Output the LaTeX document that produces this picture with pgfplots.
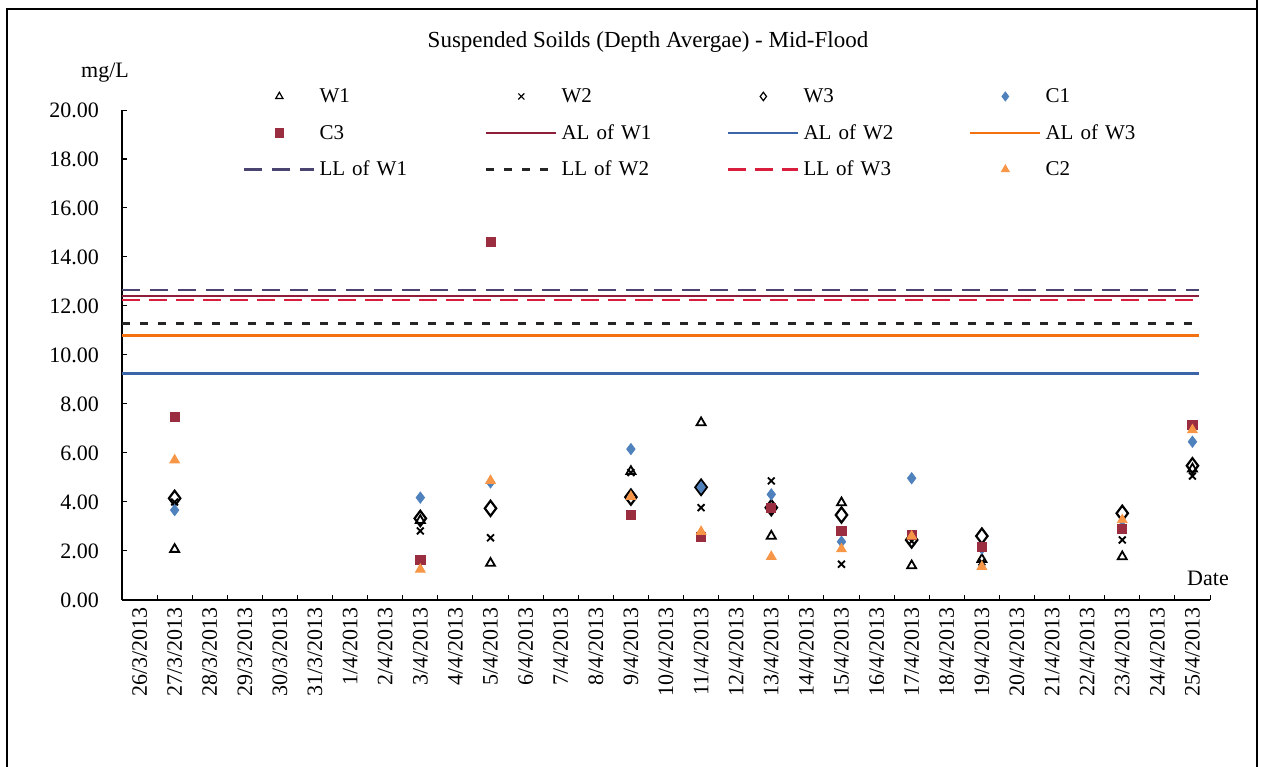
\documentclass[border=0pt]{standalone}
\usepackage{pgfplots}
\pgfplotsset{compat=1.18}
\usepackage{fontspec}
\setmainfont{Liberation Serif}
\definecolor{cC1}{HTML}{4F81BD}
\definecolor{cC3}{HTML}{9B2D40}
\definecolor{cC2}{HTML}{F79646}
\definecolor{alwone}{HTML}{8E1F3A}
\definecolor{alwtwo}{HTML}{3C64A8}
\definecolor{alwthree}{HTML}{F5700F}
\definecolor{llwone}{HTML}{4A4470}
\definecolor{llwthree}{HTML}{D81E3C}
\begin{document}
\begin{tikzpicture}
\useasboundingbox (0,0) rectangle (633pt,383.5pt);
\draw[line width=0.8pt] (3.5pt,0) -- (3.5pt,379pt) -- (628.5pt,379pt);
\draw[line width=0.8pt] (628.5pt,0) -- (628.5pt,383.5pt);
\node[font=\fontsize{11.5}{13}\selectfont] at (324pt,362.5pt) {Suspended Soilds (Depth Avergae) - Mid-Flood};
\node[font=\fontsize{11}{13}\selectfont] at (52.5pt,347pt) {mg/L};
\node[font=\fontsize{11}{13}\selectfont] at (604pt,94.5pt) {Date};
\begin{axis}[
  at={(61pt,83.5pt)}, anchor=south west,
  scale only axis, width=544pt, height=245pt,
  xmin=-0.5, xmax=30.5, ymin=0, ymax=20,
  axis lines*=left, axis line style={-, line width=0.6pt},
  tick align=inside, major tick length=2.5pt,
  tick style={black, line width=0.5pt},
  xtick={-0.5,0.5,...,30.5},
  x tick label as interval,
  xticklabels={26/3/2013,27/3/2013,28/3/2013,29/3/2013,30/3/2013,31/3/2013,1/4/2013,2/4/2013,3/4/2013,4/4/2013,5/4/2013,6/4/2013,7/4/2013,8/4/2013,9/4/2013,10/4/2013,11/4/2013,12/4/2013,13/4/2013,14/4/2013,15/4/2013,16/4/2013,17/4/2013,18/4/2013,19/4/2013,20/4/2013,21/4/2013,22/4/2013,23/4/2013,24/4/2013,25/4/2013},
  xticklabel style={rotate=90, anchor=east, font=\fontsize{11}{13}\selectfont},
  ytick={0,2,...,20},
  yticklabel style={font=\fontsize{11}{13}\selectfont, xshift=-8pt,
    /pgf/number format/.cd, fixed, fixed zerofill, precision=2, assume math mode=true},
  legend columns=4,
  legend cell align=left,
  legend style={draw=none, fill=none, inner sep=0pt,
    at={(axis description cs:0.111,1.056)}, anchor=north west,
    font=\fontsize{10.5}{12}\selectfont,
    row sep=4.75pt, column sep=0pt,
    /tikz/every even column/.append style={text width=80.8pt, text height=8pt, text depth=2.5pt}},
  legend image code/.code={\draw[mark repeat=2,mark phase=2,#1] plot coordinates {(0pt,0pt) (17.5pt,0pt) (35pt,0pt)};},
  legend image post style={mark size=2.1pt, mark options={line width=0.6pt}},
]
\addplot[only marks, color=black, mark=triangle, mark size=2.6pt, mark options={line width=0.9pt}] coordinates {
(1,2.07) (8,3.25) (10,1.50) (14,5.25) (16,7.24) (18,2.61) (20,3.97) (22,1.40) (24,1.66) (28,1.77) (30,5.35)};
\addlegendentry{W1}
\addplot[only marks, color=black, mark=x, mark size=2.4pt, mark options={line width=0.9pt}] coordinates {
(1,4.0) (8,2.82) (10,2.54) (14,5.2) (16,3.77) (18,4.86) (20,1.46) (22,2.4) (24,1.55) (28,2.45) (30,5.06)};
\addlegendentry{W2}
\addplot[only marks, color=black, mark=diamond, mark size=3.8pt, mark options={line width=1.1pt}] coordinates {
(1,4.15) (8,3.33) (10,3.74) (14,4.2) (16,4.6) (18,3.77) (20,3.47) (22,2.45) (24,2.61) (28,3.54) (30,5.48)};
\addlegendentry{W3}
\addplot[only marks, color=cC1, mark=diamond*, mark size=2.8pt] coordinates {
(1,3.67) (8,4.18) (10,4.8) (14,6.16) (16,4.6) (18,4.31) (20,2.38) (22,4.97) (24,2.1) (28,3.0) (30,6.46)};
\addlegendentry{C1}
\addplot[only marks, color=cC3, mark=square*, mark size=2.3pt] coordinates {
(1,7.48) (8,1.63) (10,14.62) (14,3.47) (16,2.57) (18,3.77) (20,2.82) (22,2.65) (24,2.18) (28,2.89) (30,7.14)};
\addlegendentry{C3}
\addplot[alwone, line width=1.2pt] coordinates {(-0.5,12.41) (30.2,12.41)};
\addlegendentry{AL of W1}
\addplot[alwtwo, line width=1.2pt] coordinates {(-0.5,9.25) (30.2,9.25)};
\addlegendentry{AL of W2}
\addplot[alwthree, line width=1.2pt] coordinates {(-0.5,10.79) (30.2,10.79)};
\addlegendentry{AL of W3}
\addplot[llwone, line width=1.2pt, dash pattern=on 9pt off 5pt] coordinates {(-0.5,12.65) (30.2,12.65)};
\addlegendentry{LL of W1}
\addplot[black!85, line width=1.2pt, dash pattern=on 4pt off 5pt] coordinates {(-0.5,11.29) (30.2,11.29)};
\addlegendentry{LL of W2}
\addplot[llwthree, line width=1.2pt, dash pattern=on 9pt off 4.5pt] coordinates {(-0.5,12.24) (30.2,12.24)};
\addlegendentry{LL of W3}
\addplot[only marks, color=cC2, mark=triangle*, mark size=2.8pt] coordinates {
(1,5.71) (8,1.25) (10,4.87) (14,4.22) (16,2.79) (18,1.77) (20,2.08) (22,2.6) (24,1.36) (28,3.27) (30,6.94)};
\addlegendentry{C2}
\end{axis}
\end{tikzpicture}
\end{document}
